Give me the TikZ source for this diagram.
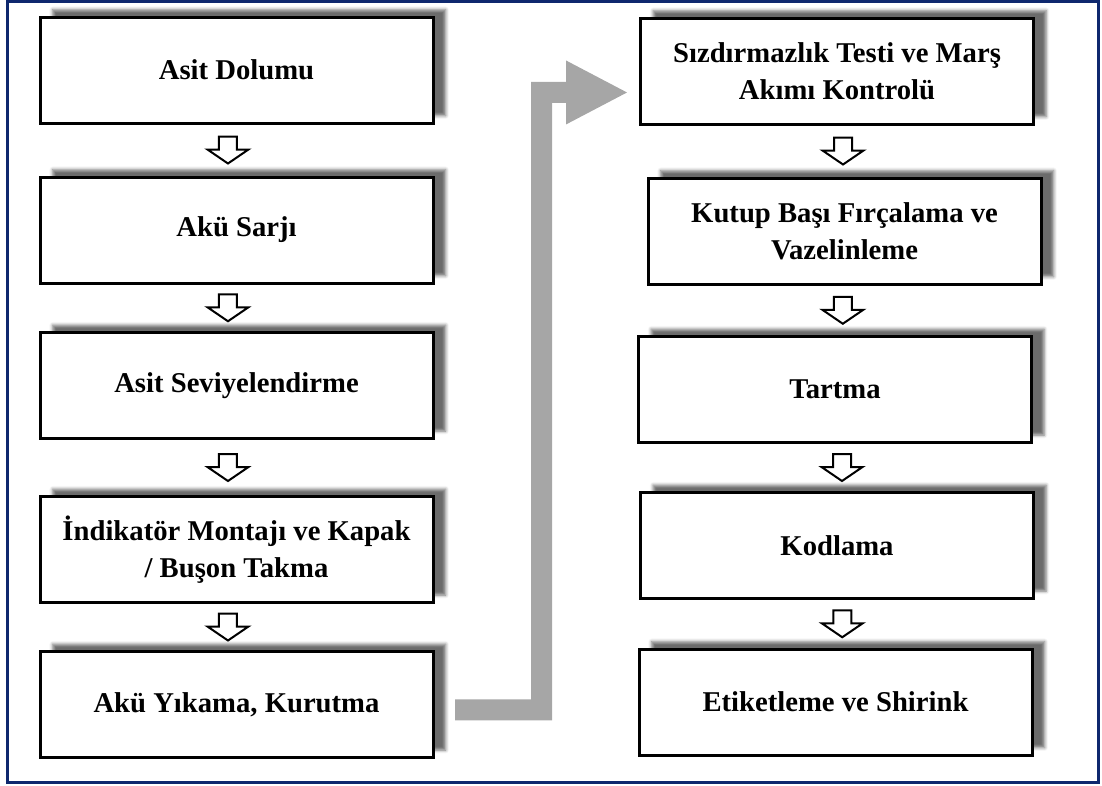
\documentclass[tikz,border=0pt]{standalone}
\usepackage{fontspec}
\setmainfont{Liberation Serif}
\usetikzlibrary{calc,shadows.blur}

\definecolor{framenavy}{RGB}{14,40,110}
\definecolor{flowgray}{RGB}{166,166,166}

\tikzset{
  stepbox/.style={draw, line width=2.25pt, fill=white,
    minimum width=294.75pt, minimum height=79.5pt, align=center,
    font=\bfseries\fontsize{21.5}{28}\selectfont,
    blur shadow={shadow xshift=9.5pt, shadow yshift=5.5pt,
      shadow blur radius=2.4pt, shadow opacity=58}},
  frameline/.style={draw=framenavy, line width=2.25pt},
  bigarrow/.style={fill=flowgray},
  downarrow/.pic={
    \draw[line width=1.5pt, fill=white, line join=miter]
      (-9,-13.5) -- (9,-13.5) -- (9,-0.5) -- (20.5,-0.5) -- (0,13.5)
      -- (-20.5,-0.5) -- (-9,-0.5) -- cycle;}
}

\begin{document}
\begin{tikzpicture}[x=0.75pt,y=-0.75pt]
\useasboundingbox (0,0) rectangle (1102,785);
\draw[frameline] (7.5,1.5) rectangle (1098,782);

% left column
\node[stepbox] (L1) at (236.5,70)    {Asit Dolumu};
\node[stepbox] (L2) at (236.5,230)   {Akü Sarjı};
\node[stepbox] (L3) at (236.5,385.5) {Asit Seviyelendirme};
\node[stepbox] (L4) at (236.5,549.5) {İndikatör Montajı ve Kapak\\/ Buşon Takma};
\node[stepbox] (L5) at (236.5,704.5) {Akü Yıkama, Kurutma};

% right column
\node[stepbox] (R1) at (837,71)      {Sızdırmazlık Testi ve Marş\\Akımı Kontrolü};
\node[stepbox] (R2) at (844.5,231)   {Kutup Başı Fırçalama ve\\Vazelinleme};
\node[stepbox] (R3) at (835,389.5)   {Tartma};
\node[stepbox] (R4) at (837,545.5)   {Kodlama};
\node[stepbox] (R5) at (835.5,702)   {Etiketleme ve Shirink};

% hollow step arrows
\pic at ([xshift=-6.4pt]$(L1.south)!.5!(L2.north)$) {downarrow};
\pic at ([xshift=-6.4pt]$(L2.south)!.5!(L3.north)$) {downarrow};
\pic at ([xshift=-6.4pt]$(L3.south)!.5!(L4.north)$) {downarrow};
\pic at ([xshift=-6.4pt]$(L4.south)!.5!(L5.north)$) {downarrow};
\pic at ([xshift=1.7pt]$(R1.south)!.5!(R2.north)$) {downarrow};
\pic at ([xshift=2.3pt]$(R2.south)!.5!(R3.north)$) {downarrow};
\pic at ([xshift=4.5pt]$(R3.south)!.5!(R4.north)$) {downarrow};
\pic at ([xshift=4.5pt]$(R4.south)!.5!(R5.north)$) {downarrow};

% bent arrow from the left column to the right column
\coordinate (s) at ([xshift=15.4pt,yshift=-4.1pt]L5.east);
\coordinate (t) at ([xshift=-9pt,yshift=-16.1pt]R1.west);
\coordinate (bend) at (541.5,400);
\fill[bigarrow] let \p1=(s), \p2=(t), \p3=(bend), \n1={7.875pt}, \n2={45.75pt}, \n3={24pt} in
  (\x1,\y1+\n1) -- (\x3-\n1,\y1+\n1) -- (\x3-\n1,\y2+\n1) -- (\x2-\n2,\y2+\n1)
  -- (\x2-\n2,\y2+\n3) -- (\x2,\y2) -- (\x2-\n2,\y2-\n3) -- (\x2-\n2,\y2-\n1)
  -- (\x3+\n1,\y2-\n1) -- (\x3+\n1,\y1-\n1) -- (\x1,\y1-\n1) -- cycle;
\end{tikzpicture}
\end{document}
